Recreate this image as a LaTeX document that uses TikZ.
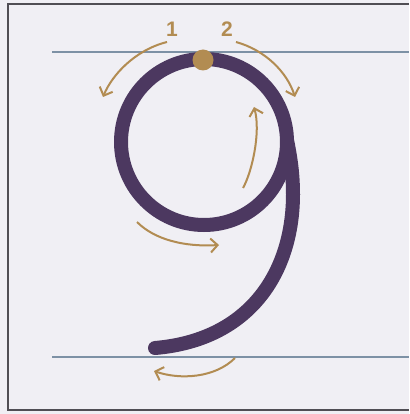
\documentclass[tikz,border=0pt]{standalone}
\usepackage{fontspec}
\setmainfont{Liberation Sans}
\definecolor{ninepurple}{RGB}{76,56,96}
\definecolor{ninetan}{RGB}{178,140,82}
\definecolor{guideblue}{RGB}{125,145,165}
\definecolor{paper}{RGB}{240,239,244}
\definecolor{framegrey}{RGB}{80,78,84}
\usetikzlibrary{arrows.meta}
\begin{document}
\begin{tikzpicture}[x=1pt,y=-1pt,
  guide/.style={guideblue,line width=1.2pt},
  stroke/.style={ninepurple,line width=14pt,line cap=round},
  hint/.style={ninetan,line width=2pt,-{Straight Barb[length=7pt,width=14pt,line width=2pt]}},
  num/.style={ninetan,font=\bfseries\fontsize{21}{21}\selectfont}]
\fill[paper] (0,0) rectangle (409,414);
\useasboundingbox (0,0) rectangle (409,414);
\draw[framegrey,line width=2pt] (409,4) -- (8,4) -- (8,410) -- (409,410);
\draw[guide] (52,52) -- (409,52);
\draw[guide] (52,357) -- (409,357);
% the figure nine
\draw[stroke] (204,142) circle (83);
\draw[stroke,line cap=butt] (287,140) .. controls (291,160) and (293,175) .. (293,195);
\draw[stroke] (293,194) .. controls (293,272) and (250,340) .. (155,348);
\node[circle,fill=ninetan,minimum size=21pt,inner sep=0pt] (start) at (203,60) {};
% direction hints
\coordinate (h1a) at (167,42);  \coordinate (h1b) at (103,97);
\coordinate (h2a) at (236,42);  \coordinate (h2b) at (295,97);
\coordinate (h3a) at (243,188); \coordinate (h3b) at (254,107);
\coordinate (h4a) at (137,222); \coordinate (h4b) at (219,245);
\coordinate (h5a) at (235,358); \coordinate (h5b) at (154,371);
\draw[hint] (h1a) .. controls (135,50) and (112,75) .. (h1b);
\draw[hint] (h2a) .. controls (265,50) and (287,72) .. (h2b);
\draw[hint] (h3a) .. controls (252,172) and (261,132) .. (h3b);
\draw[hint] (h4a) .. controls (155,240) and (185,247) .. (h4b);
\draw[hint] (h5a) .. controls (215,378) and (180,380) .. (h5b);
\node[num] (one) at (172,29) {1};
\node[num] (two) at (227,29) {2};
\end{tikzpicture}
\end{document}
